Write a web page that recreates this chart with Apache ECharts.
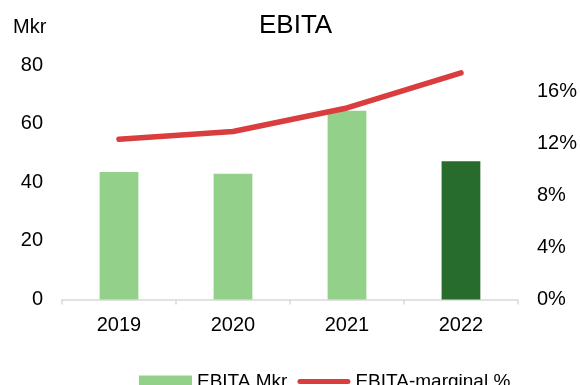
<!DOCTYPE html>
<html>
<head>
<meta charset="utf-8">
<script src="https://cdn.jsdelivr.net/npm/echarts@6/dist/echarts.min.js"></script>
<style>
  html, body { margin: 0; padding: 0; background: #fff; }
  #chart { width: 580px; height: 385px; }
</style>
</head>
<body>
<div id="chart"></div>
<script>
// EBITA per year (Mkr) and EBITA margin (%)
const years = ['2019', '2020', '2021', '2022'];
const ebitaMkr = [43.5, 42.9, 64.4, 47.2];
const ebitaMargin = [12.3, 12.9, 14.7, 17.4];
const leftTicks = { min: 0, max: 80, interval: 20 };
const rightTicks = { min: 0, max: 18, interval: 4 };
const highlightIndex = 3; // latest year drawn in dark green

const FONT = '"Liberation Sans", Arial, sans-serif';
const LIGHT_GREEN = '#93d18b';
const DARK_GREEN = '#276b2d';
const RED = '#d93d3d';

// thick rounded stroke used as the legend icon of the margin line
const LINE_ICON = 'path://M2.5,0H50.5A2.5,2.5 0 0 1 50.5,5H2.5A2.5,2.5 0 0 1 2.5,0Z';

const chart = echarts.init(document.getElementById('chart'), null, { renderer: 'canvas' });

chart.setOption({
  animation: false,
  backgroundColor: '#ffffff',
  title: {
    text: 'EBITA',
    left: 259,
    top: 13,
    padding: 0,
    textStyle: { fontFamily: FONT, fontSize: 26, fontWeight: 'normal', color: '#000' }
  },
  graphic: [{
    type: 'text',
    left: 13,
    top: 17,
    style: { text: 'Mkr', fontFamily: FONT, fontSize: 20, fill: '#000' }
  }],
  legend: {
    left: 139,
    top: 372,
    padding: 0,
    itemGap: 10,
    itemWidth: 53,
    itemHeight: 12,
    textStyle: { fontFamily: FONT, fontSize: 19, color: '#000' },
    data: [
      { name: 'EBITA Mkr', icon: 'rect' },
      { name: 'EBITA-marginal %', icon: LINE_ICON }
    ]
  },
  grid: { left: 62, right: 61, top: 65, bottom: 85.5, containLabel: false },
  xAxis: {
    type: 'category',
    data: years,
    boundaryGap: true,
    axisLine: { show: true, lineStyle: { color: '#d9d9d9', width: 1.5 } },
    axisTick: { show: true, length: 5, lineStyle: { color: '#d9d9d9', width: 1.5 } },
    axisLabel: { margin: 16, fontFamily: FONT, fontSize: 20, color: '#000' },
    splitLine: { show: false }
  },
  yAxis: [
    {
      type: 'value',
      min: leftTicks.min, max: leftTicks.max, interval: leftTicks.interval,
      axisLine: { show: false },
      axisTick: { show: false },
      splitLine: { show: false },
      axisLabel: { margin: 19, fontFamily: FONT, fontSize: 20, color: '#000' }
    },
    {
      type: 'value',
      position: 'right',
      min: rightTicks.min, max: rightTicks.max, interval: rightTicks.interval,
      axisLine: { show: false },
      axisTick: { show: false },
      splitLine: { show: false },
      axisLabel: {
        margin: 19, fontFamily: FONT, fontSize: 20, color: '#000',
        showMaxLabel: false,
        formatter: v => v + '%'
      }
    }
  ],
  series: [
    {
      name: 'EBITA Mkr',
      type: 'bar',
      yAxisIndex: 0,
      barWidth: '34%',
      itemStyle: { color: LIGHT_GREEN },
      data: ebitaMkr.map((v, i) => i === highlightIndex
        ? { value: v, itemStyle: { color: DARK_GREEN } }
        : v)
    },
    {
      name: 'EBITA-marginal %',
      type: 'line',
      yAxisIndex: 1,
      symbol: 'none',
      color: RED,
      itemStyle: { color: RED },
      lineStyle: { color: RED, width: 5.5, cap: 'round', join: 'round' },
      data: ebitaMargin,
      z: 3
    }
  ]
});
</script>
</body>
</html>
